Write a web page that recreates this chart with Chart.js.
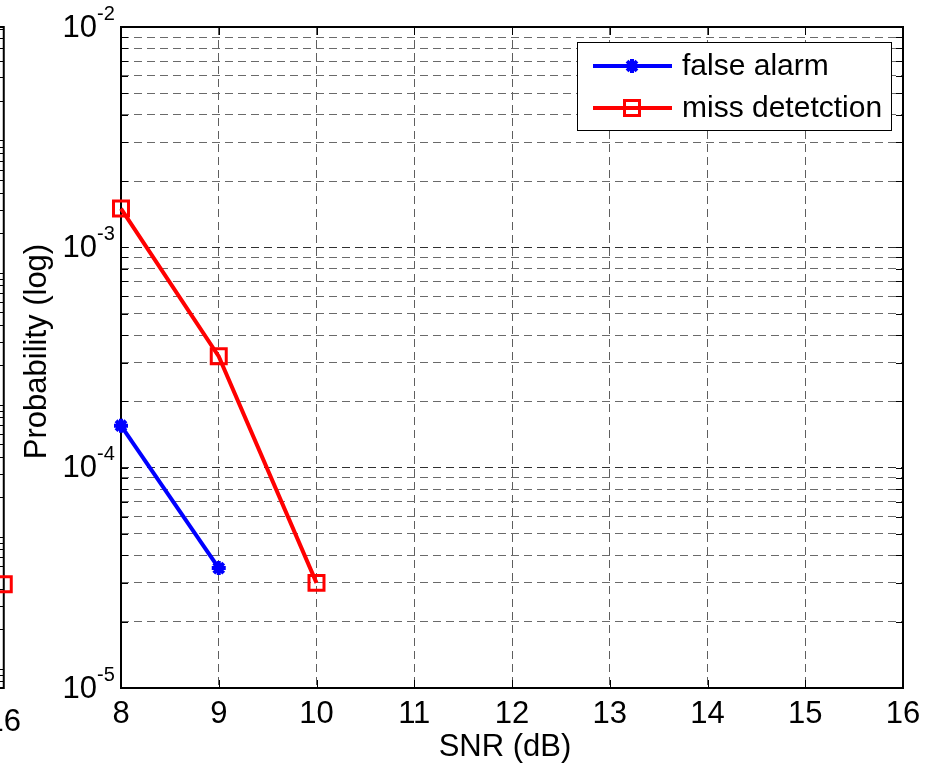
<!DOCTYPE html>
<html>
<head>
<meta charset="utf-8">
<title>Probability vs SNR</title>
<script src="https://cdn.jsdelivr.net/npm/chart.js@4.4.1/dist/chart.umd.min.js"></script>
<style>
  html, body { margin: 0; padding: 0; background: #fff; overflow: hidden; }
  #wrap { position: relative; width: 936px; height: 766px; overflow: hidden; }
  #leftChart { position: absolute; left: -271px; top: 0; }
  #mainChart { position: absolute; left: 0; top: 0; }
</style>
</head>
<body>
<div id="wrap">
  <canvas id="leftChart" width="300" height="766"></canvas>
  <canvas id="mainChart" width="936" height="766"></canvas>
</div>
<script>
// values
const snrTicks = [8, 9, 10, 11, 12, 13, 14, 15, 16];
const faSnr = [8, 9];
const falseAlarm = [1.55e-4, 3.5e-5];
const mdSnr = [8, 9, 10];
const missDetection = [1.5e-3, 3.2e-4, 3.0e-5];
const yDecades = [1e-5, 1e-4, 1e-3, 1e-2];
const yExponents = ['-5', '-4', '-3', '-2'];

// neighbouring subplot, only its right edge is in the picture
const leftSnr = [16];
const leftMiss = [4.4e-5];

const FONT = "'Liberation Sans', Arial, sans-serif";

// 1..9 x 10^k ticks for the log grid
function logTicks(min, max) {
    const out = [];
    for (let e = Math.floor(Math.log10(min)); e <= Math.ceil(Math.log10(max)); e++) {
        for (let m = 1; m <= 9; m++) {
            const v = m * Math.pow(10, e);
            if (v >= min * 0.999 && v <= max * 1.001) out.push({ value: v });
        }
    }
    return out;
}

function isDecade(v) {
    const l = Math.log10(v);
    return Math.abs(l - Math.round(l)) < 1e-6;
}

// ---------- left (cut off) subplot ----------
const leftBox = {
    id: 'leftBox',
    beforeDatasetsDraw(chart) {
        const { ctx, chartArea: a } = chart;
        ctx.save();
        ctx.strokeStyle = '#000';
        ctx.lineWidth = 2;
        ctx.strokeRect(a.left, a.top, a.right - a.left, a.bottom - a.top);
        ctx.restore();
    }
};

new Chart(document.getElementById('leftChart'), {
    type: 'line',
    data: {
        datasets: [{
            data: leftSnr.map((x, i) => ({ x, y: leftMiss[i] })),
            borderColor: '#ff0000',
            borderWidth: 4,
            pointStyle: 'rect',
            pointRadius: 10.6,
            pointBorderWidth: 3,
            pointBorderColor: '#ff0000',
            pointBackgroundColor: 'rgba(0,0,0,0)',
            clip: false
        }]
    },
    options: {
        responsive: false,
        animation: false,
        events: [],
        layout: { padding: { top: 27, right: 20, left: 0, bottom: 0 } },
        scales: {
            x: {
                type: 'linear', min: 8, max: 16,
                afterBuildTicks: s => { s.ticks = snrTicks.map(v => ({ value: v })); },
                afterFit: s => { s.height = 78; },
                ticks: { color: '#000', font: { family: FONT, size: 31 }, padding: 8, autoSkip: false, maxRotation: 0 },
                grid: { display: false },
                border: { display: false }
            },
            y: {
                type: 'logarithmic', min: 7.2e-6, max: 0.73,
                afterBuildTicks: s => { s.ticks = logTicks(s.min, s.max); },
                afterFit: s => { s.width = 0; },
                ticks: { display: false },
                grid: { color: '#000', lineWidth: 1, drawTicks: false },
                border: { display: false }
            }
        },
        plugins: { legend: { display: false }, tooltip: { enabled: false } }
    },
    plugins: [leftBox]
});

// ---------- main plot ----------
const frame = {
    id: 'frame',
    beforeDatasetsDraw(chart) {
        const { ctx, chartArea: a, scales: { x, y } } = chart;
        ctx.save();
        ctx.strokeStyle = '#000';
        ctx.lineWidth = 1;
        // inside tick marks
        y.ticks.forEach(t => {
            const py = Math.round(y.getPixelForValue(t.value)) + 0.5;
            ctx.beginPath();
            ctx.moveTo(a.left, py); ctx.lineTo(a.left + 7, py);
            ctx.moveTo(a.right, py); ctx.lineTo(a.right - 7, py);
            ctx.stroke();
        });
        x.ticks.forEach(t => {
            const px = Math.round(x.getPixelForValue(t.value)) + 0.5;
            ctx.beginPath();
            ctx.moveTo(px, a.bottom); ctx.lineTo(px, a.bottom - 8);
            ctx.moveTo(px, a.top); ctx.lineTo(px, a.top + 8);
            ctx.stroke();
        });
        ctx.lineWidth = 2;
        ctx.strokeRect(a.left, a.top, a.right - a.left, a.bottom - a.top);
        ctx.restore();
    },
    afterDraw(chart) {
        const { ctx, chartArea: a, scales: { y } } = chart;
        ctx.save();
        ctx.fillStyle = '#000';
        // y tick labels 10^k
        yDecades.forEach((v, i) => {
            const py = y.getPixelForValue(v);
            ctx.font = '31px ' + FONT;
            ctx.textAlign = 'right';
            ctx.textBaseline = 'middle';
            ctx.fillText('10', a.left - 24, py + 1);
            ctx.font = '20px ' + FONT;
            ctx.textAlign = 'left';
            ctx.fillText(yExponents[i], a.left - 24, py - 13);
        });
        // axis titles
        ctx.font = '31px ' + FONT;
        ctx.textAlign = 'center';
        ctx.textBaseline = 'middle';
        ctx.fillText('SNR (dB)', (a.left + a.right) / 2 - 7, 747);
        ctx.translate(37, (a.top + a.bottom) / 2 - 6);
        ctx.rotate(-Math.PI / 2);
        ctx.fillText('Probability (log)', 0, 0);
        ctx.restore();

        // legend
        const lx = 577, ly = 42, lw = 314, lh = 88;
        ctx.save();
        ctx.fillStyle = '#fff';
        ctx.fillRect(lx, ly, lw, lh);
        ctx.strokeStyle = '#000';
        ctx.lineWidth = 1;
        ctx.strokeRect(lx + 0.5, ly + 0.5, lw, lh);
        chart.data.datasets.forEach((ds, i) => {
            const ry = ly + 24 + i * 42;
            ctx.strokeStyle = ds.borderColor;
            ctx.lineWidth = ds.borderWidth;
            ctx.beginPath();
            ctx.moveTo(lx + 16, ry); ctx.lineTo(lx + 95, ry);
            ctx.stroke();
            ctx.lineWidth = ds.pointBorderWidth;
            ctx.fillStyle = ds.pointBackgroundColor;
            Chart.helpers.drawPoint(ctx, {
                pointStyle: ds.pointStyle, radius: ds.pointRadius,
                borderWidth: ds.pointBorderWidth, rotation: 0
            }, lx + 55, ry);
            ctx.fillStyle = '#000';
            ctx.font = '30px ' + FONT;
            ctx.textAlign = 'left';
            ctx.textBaseline = 'middle';
            ctx.fillText(ds.label, lx + 105, ry + 1);
        });
        ctx.restore();
    }
};

new Chart(document.getElementById('mainChart'), {
    type: 'line',
    data: {
        datasets: [{
            label: 'false alarm',
            data: faSnr.map((x, i) => ({ x, y: falseAlarm[i] })),
            borderColor: '#0000ff',
            backgroundColor: '#0000ff',
            borderWidth: 4,
            pointStyle: 'star',
            pointRadius: 7,
            pointBorderWidth: 4,
            pointBorderColor: '#0000ff',
            pointBackgroundColor: '#0000ff',
            clip: false
        }, {
            label: 'miss detetction',
            data: mdSnr.map((x, i) => ({ x, y: missDetection[i] })),
            borderColor: '#ff0000',
            backgroundColor: '#ff0000',
            borderWidth: 4,
            pointStyle: 'rect',
            pointRadius: 10.6,
            pointBorderWidth: 3,
            pointBorderColor: '#ff0000',
            pointBackgroundColor: 'rgba(0,0,0,0)',
            clip: false
        }]
    },
    options: {
        responsive: false,
        animation: false,
        events: [],
        layout: { padding: { top: 27, right: 33, left: 0, bottom: 0 } },
        scales: {
            x: {
                type: 'linear', min: 8, max: 16,
                afterBuildTicks: s => { s.ticks = snrTicks.map(v => ({ value: v })); },
                afterFit: s => { s.height = 78; },
                ticks: { color: '#000', font: { family: FONT, size: 31 }, padding: 8, autoSkip: false, maxRotation: 0 },
                grid: { color: '#5e5e5e', lineWidth: 1, drawTicks: false },
                border: { display: false, dash: [8, 5] }
            },
            y: {
                type: 'logarithmic', min: 1e-5, max: 1e-2,
                afterBuildTicks: s => { s.ticks = logTicks(s.min, s.max); },
                afterFit: s => { s.width = 121; },
                ticks: { display: false },
                grid: {
                    color: c => (c.tick && isDecade(c.tick.value)) ? '#303030' : '#6a6a6a',
                    lineWidth: 1,
                    drawTicks: false
                },
                border: { display: false, dash: [8, 5] }
            }
        },
        plugins: { legend: { display: false }, tooltip: { enabled: false } }
    },
    plugins: [frame]
});
</script>
</body>
</html>
